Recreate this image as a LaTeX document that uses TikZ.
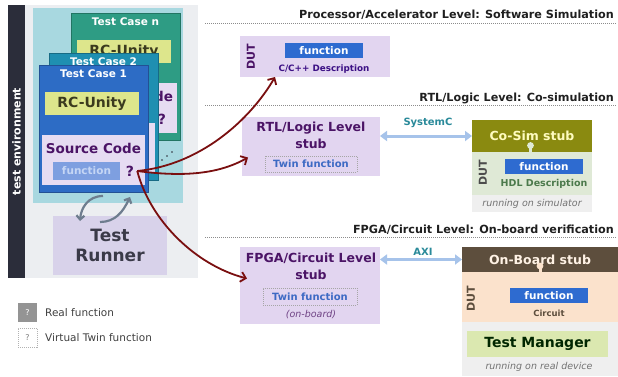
\documentclass[tikz,border=0pt]{standalone}
\usepackage{fontspec}
\setmainfont{DejaVu Sans}
\usetikzlibrary{arrows.meta,calc}
\definecolor{barc}{HTML}{2B2D3A}
\definecolor{panelc}{HTML}{ECEEF1}
\definecolor{tealp}{HTML}{A8D8E0}
\definecolor{tcn}{HTML}{2E9C84}
\definecolor{tctwo}{HTML}{1F8FB1}
\definecolor{tcone}{HTML}{2D6CC5}
\definecolor{rcy}{HTML}{DDE68C}
\definecolor{rct}{HTML}{3B3B1E}
\definecolor{srcbg}{HTML}{E6DCF2}
\definecolor{purp}{HTML}{4B1466}
\definecolor{tcfun}{HTML}{7E9FE0}
\definecolor{tcfunt}{HTML}{C5D6F5}
\definecolor{lav}{HTML}{E2D5F0}
\definecolor{funb}{HTML}{2E6BD0}
\definecolor{twint}{HTML}{3D6AC4}
\definecolor{redc}{HTML}{7A0F10}
\definecolor{garr}{HTML}{6E7D8E}
\definecolor{blarr}{HTML}{A6C3EA}
\definecolor{olive}{HTML}{8A8A10}
\definecolor{dutg}{HTML}{DFE9D6}
\definecolor{brownc}{HTML}{5D4E3D}
\definecolor{peach}{HTML}{FBE2CC}
\definecolor{lgray}{HTML}{EFEFEF}
\definecolor{tmg}{HTML}{DBE8B0}
\definecolor{runbg}{HTML}{D8D2EA}
\definecolor{runtxt}{HTML}{3A3A48}
\definecolor{tealtxt}{HTML}{2A8A9A}
\tikzset{
  rbox/.style={draw=none, inner sep=0pt, outer sep=0pt, anchor=north west},
  tctitle/.style={text=white, font=\bfseries\fontsize{10.5}{12}\selectfont, inner sep=0pt},
  head/.style={anchor=east, inner sep=0pt, font=\bfseries\fontsize{11.2}{13}\selectfont, text=black!88},
  hdots/.style={draw=black!45, line width=0.8pt, dash pattern=on 1pt off 1pt},
  dutlbl/.style={rotate=90, inner sep=0pt, font=\bfseries\fontsize{11}{12}\selectfont},
  funbox/.style={rbox, fill=funb, text=white, minimum width=78pt, minimum height=15pt, font=\bfseries\fontsize{10.5}{12}\selectfont},
  stubtxt/.style={inner sep=0pt, text=purp, font=\bfseries\fontsize{12.5}{14}\selectfont},
  twinbox/.style={rbox, draw=black!35, dash pattern=on 1pt off 1pt, line width=0.6pt, text=twint, font=\bfseries\fontsize{10}{12}\selectfont},
  redarr/.style={draw=redc, line width=1.8pt, -{Straight Barb[length=5pt,width=10pt]}},
  grayarr/.style={draw=garr, line width=2.2pt, -{Straight Barb[length=4pt,width=8pt]}},
  blarrow/.style={draw=blarr, line width=3pt, {Triangle[length=7pt,width=10pt]}-{Triangle[length=7pt,width=10pt]}},
  itl/.style={inner sep=0pt, text=black!55, font=\itshape\fontsize{9.5}{11}\selectfont},
}
% #6 = 1: draw inner texts; 0: they are hidden behind the next test case
\newcommand\mytc[6]{%
\begin{scope}[shift={(#2,#3)}]
\node[rbox, fill=#4, draw=#4!75!black, line width=0.7pt, minimum width=109pt, minimum height=127pt] (#1) at (0,0) {};
\node[tctitle] (#1t) at (54.5,9) {#5};
\node[rbox, fill=rcy, minimum width=94pt, minimum height=23pt, text=rct, font=\bfseries\fontsize{14}{16}\selectfont] (#1r) at (6,27) {\ifnum#6=1 RC-Unity\fi};
\node[rbox, fill=srcbg, minimum width=103pt, minimum height=50pt] (#1s) at (3,70) {};
\node[rbox, fill=tcfun, minimum width=67pt, minimum height=18pt, text=tcfunt, font=\bfseries\fontsize{10.5}{12}\selectfont] (#1f) at (14,97) {\ifnum#6=1 function\fi};
\ifnum#6=1
\node[inner sep=0pt, text=purp, font=\bfseries\fontsize{13.5}{15}\selectfont] (#1st) at (54.5,83) {Source Code};
\node[inner sep=0pt, text=purp, font=\bfseries\fontsize{14}{16}\selectfont] (#1q) at (91,106) {?};
\fi
\end{scope}}
\begin{document}
\begin{tikzpicture}[x=1pt,y=-1pt]
\useasboundingbox (0,0) rectangle (618,376);
\fill[white] (0,0) rectangle (618,376);
% left environment
\node[rbox, fill=barc, minimum width=17pt, minimum height=273pt] (bar) at (8,5) {};
\node[rotate=90, inner sep=0pt, text=white, font=\bfseries\fontsize{11}{13}\selectfont] (envt) at (bar.center) {test environment};
\node[rbox, fill=panelc, minimum width=173pt, minimum height=273pt] (panel) at (25,5) {};
\node[rbox, fill=tealp, minimum width=150pt, minimum height=195pt] (teal) at (33,8) {};
\mytc{tcn}{71}{13}{tcn}{Test Case n}{1}
\mytc{tcb}{49}{53}{tctwo}{Test Case 2}{0}
\mytc{tca}{39}{65}{tcone}{Test Case 1}{1}
\fill[barc] (162,160) circle (0.9) (167,156) circle (0.9) (172,152) circle (0.9);
\node[rbox, fill=runbg, minimum width=114pt, minimum height=59pt, text=runtxt, align=center, font=\bfseries\fontsize{17}{20}\selectfont] (runner) at (53,216) {Test\\Runner};
\coordinate (ga1) at (103,196);
\coordinate (ga2) at (80,221);
\coordinate (gb1) at (100,222);
\coordinate (gb2) at (130,197);
\draw[grayarr] (ga1) .. controls (88,196) and (81,208) .. (ga2);
\draw[grayarr] (gb1) .. controls (115,222) and (123,212) .. (gb2);
% legend
\node[rbox, fill=black!42, minimum width=19pt, minimum height=19pt, text=white, font=\fontsize{8}{10}\selectfont] (lg1) at (18,303) {?};
\node[anchor=west, inner sep=0pt, text=black!75, font=\fontsize{10.5}{12}\selectfont] (lg1t) at (45,313) {Real function};
\node[rbox, draw=black!30, dash pattern=on 1pt off 1pt, line width=0.6pt, minimum width=19pt, minimum height=19pt, text=black!50, font=\fontsize{8}{10}\selectfont] (lg2) at (18,328) {?};
\node[anchor=west, inner sep=0pt, text=black!75, font=\fontsize{10.5}{12}\selectfont] (lg2t) at (45,338) {Virtual Twin function};
% headings
\node[head] (h1) at (614,15) {Processor/Accelerator Level: Software Simulation};
\draw[hdots] (205,23) -- (616,23);
\node[head] (h2) at (614,98) {RTL/Logic Level: Co-simulation};
\draw[hdots] (205,105) -- (616,105);
\node[head] (h3) at (614,230) {FPGA/Circuit Level: On-board verification};
\draw[hdots] (205,237) -- (616,237);
% processor level
\node[rbox, fill=lav, minimum width=150pt, minimum height=41pt] (dut1) at (240,36) {};
\node[dutlbl, text=purp] (dut1l) at (251,57) {DUT};
\node[funbox] (fun1) at (285,43) {function};
\node[inner sep=0pt, text=purp!80!blue, font=\bfseries\fontsize{8.8}{10}\selectfont] (cdesc) at (324,69) {C/C++ Description};
% RTL level
\node[rbox, fill=lav, minimum width=138pt, minimum height=59pt] (rtl) at (242,117) {};
\node[stubtxt] (rtl1) at (311,128) {RTL/Logic Level};
\node[stubtxt] (rtl2) at (311,144) {stub};
\node[twinbox, minimum width=92pt, minimum height=16pt] (twin1) at (265,156) {Twin function};
\node[rbox, fill=olive, minimum width=120pt, minimum height=32pt, text=yellow!25, font=\bfseries\fontsize{12.5}{14}\selectfont] (cosim) at (472,120) {Co-Sim stub};
\node[rbox, fill=dutg, minimum width=120pt, minimum height=43pt] (dut2) at (472,152) {};
\fill[dutg] (530.5,145.5) circle (3.4);
\fill[dutg] (529,146) rectangle (532,152.5);
\node[dutlbl, text=black!70] (dut2l) at (483,173) {DUT};
\node[funbox] (fun2) at (505,159) {function};
\node[inner sep=0pt, text=black!55!green!40!gray, font=\bfseries\fontsize{9.5}{11}\selectfont] (hdl) at (544,184) {HDL Description};
\node[rbox, fill=lgray, minimum width=120pt, minimum height=17pt] (simbg) at (472,195) {};
\node[itl] (simt) at (532,204) {running on simulator};
\draw[blarrow] (rtl.east |- cosim.west) -- (cosim.west);
\node[inner sep=0pt, text=tealtxt, font=\bfseries\fontsize{10}{12}\selectfont] (sysc) at (428,123) {SystemC};
% FPGA level
\node[rbox, fill=lav, minimum width=140pt, minimum height=77pt] (fpga) at (240,247) {};
\node[stubtxt] (fp1) at (311,258) {FPGA/Circuit Level};
\node[stubtxt] (fp2) at (311,275) {stub};
\node[twinbox, minimum width=94pt, minimum height=17pt] (twin2) at (263,288) {Twin function};
\node[inner sep=0pt, text=purp!80, font=\itshape\fontsize{9.5}{11}\selectfont] (onb) at (311,315) {(on-board)};
\node[rbox, fill=brownc, minimum width=156pt, minimum height=25pt, text=orange!10, font=\bfseries\fontsize{12.5}{14}\selectfont] (obstub) at (462,247) {On-Board stub};
\node[rbox, fill=peach, minimum width=156pt, minimum height=50pt] (dut3) at (462,272) {};
\fill[peach] (540,266) circle (3.4);
\fill[peach] (538.5,267) rectangle (541.5,272.5);
\node[dutlbl, text=brownc] (dut3l) at (471,299) {DUT};
\node[funbox] (fun3) at (510,288) {function};
\node[inner sep=0pt, text=brownc, font=\bfseries\fontsize{8.5}{10}\selectfont] (circ) at (549,313) {Circuit};
\node[rbox, fill=lgray, minimum width=156pt, minimum height=54pt] (devbg) at (462,322) {};
\node[rbox, fill=tmg, minimum width=141pt, minimum height=26pt, text=black!75!green!60!black, font=\bfseries\fontsize{14}{16}\selectfont] (tm) at (467,331) {Test Manager};
\node[itl] (devt) at (539,367) {running on real device};
\draw[blarrow] (fpga.east |- obstub.west) -- (obstub.west);
\node[inner sep=0pt, text=tealtxt, font=\bfseries\fontsize{10}{12}\selectfont] (axi) at (423,252) {AXI};
% red arrows
\draw[redarr] ([xshift=3pt]tcaq.east) .. controls (200,165) and (250,120) .. ([xshift=-40pt]dut1.south);
\draw[redarr] ([xshift=3pt]tcaq.east) .. controls (190,178) and (222,172) .. ([xshift=6pt,yshift=-11pt]rtl.west);
\draw[redarr] ([xshift=3pt]tcaq.east) .. controls (150,220) and (195,265) .. ([xshift=7pt,yshift=7pt]fpga.west);
\end{tikzpicture}
\end{document}
